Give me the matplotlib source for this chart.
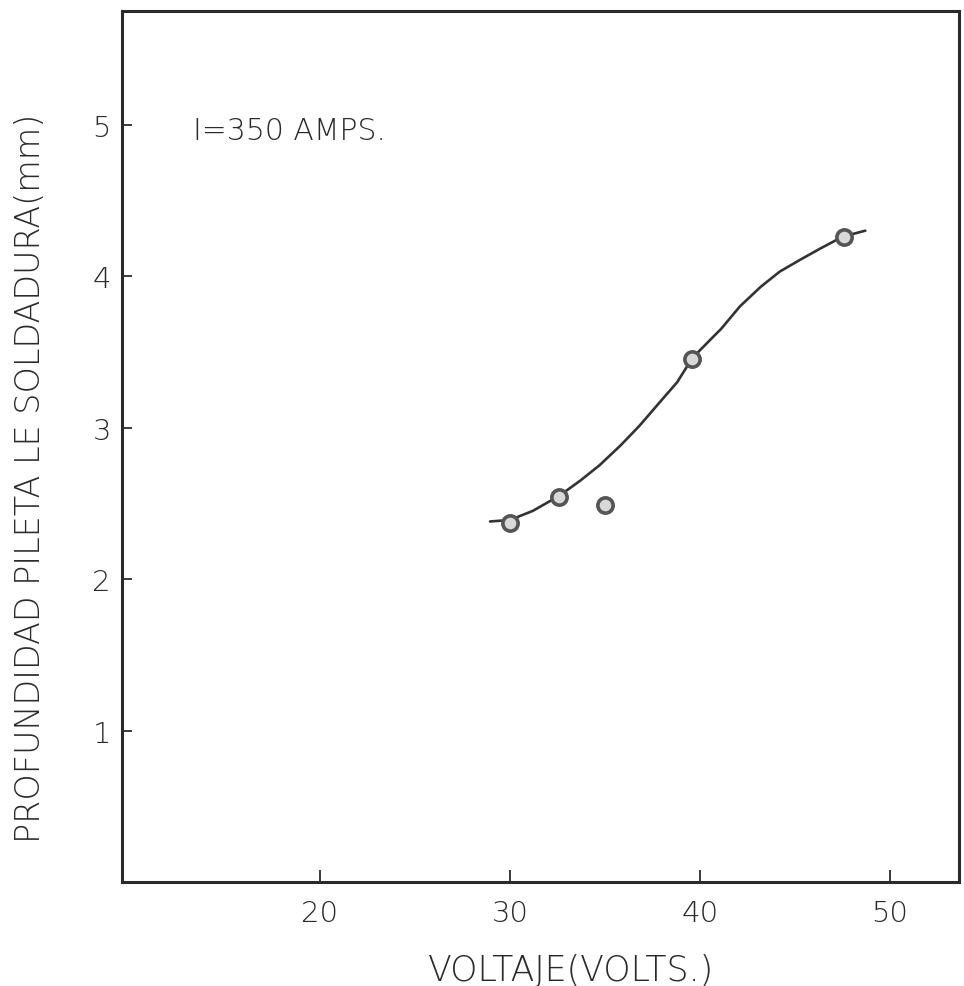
import matplotlib
matplotlib.use("Agg")
import matplotlib.pyplot as plt

# puntos medidos (voltaje, profundidad)
volts = [30.0, 32.6, 35.0, 39.6, 47.6]
depth = [2.37, 2.54, 2.49, 3.45, 4.26]

# curva trazada a mano
curve_x = [28.95, 30.0, 31.2, 32.6, 33.7, 34.7, 35.8, 36.8, 37.9, 38.8,
           39.6, 40.7, 41.1, 42.1, 43.2, 44.2, 45.3, 46.3, 47.5, 48.7]
curve_y = [2.38, 2.39, 2.45, 2.55, 2.65, 2.75, 2.88, 3.01, 3.17, 3.30,
           3.46, 3.60, 3.65, 3.80, 3.93, 4.03, 4.11, 4.18, 4.26, 4.30]

x_ticks = [20, 30, 40, 50]
y_ticks = [1, 2, 3, 4, 5]

FONT = "DejaVu Sans"
INK = "#2a2a2a"

fig = plt.figure(figsize=(9.64, 9.87), dpi=100)
ax = fig.add_axes([0.1266, 0.1054, 0.8682, 0.8824])

ax.plot(curve_x, curve_y, color="#333333", lw=1.9,
        solid_capstyle="round", solid_joinstyle="round")
ax.plot(volts, depth, "o", ms=11, mfc="#d9d9d9", mec="#555555", mew=2.6)

ax.set_xlim(9.58, 53.63)
ax.set_ylim(0, 5.75)

ax.set_xticks(x_ticks)
ax.set_yticks(y_ticks)
ax.tick_params(axis="x", direction="in", length=9, width=1.3, color=INK,
               pad=12, labelsize=21, labelcolor=INK)
ax.tick_params(axis="y", direction="in", length=7, width=1.3, color=INK,
               pad=8, labelsize=21, labelcolor=INK)
for lab in ax.get_xticklabels() + ax.get_yticklabels():
    lab.set_family(FONT)
    lab.set_fontweight("light")

for sp in ax.spines.values():
    sp.set_linewidth(2.2)
    sp.set_color(INK)

ax.text(13.3, 4.96, "I=350 AMPS.", fontsize=21.5, color=INK, family=FONT,
        fontweight="light", va="center", ha="left")

fig.text(31 / 964, 1 - 478 / 987, "PROFUNDIDAD PILETA LE SOLDADURA(mm)",
         rotation=90, ha="center", va="center", fontsize=24, color=INK,
         family=FONT, fontweight="light")
fig.text(571 / 964, 1 - 971 / 987, "VOLTAJE(VOLTS.)", ha="center",
         va="center", fontsize=25, color=INK, family=FONT, fontweight="light")

fig.savefig("out.png", dpi=100)
